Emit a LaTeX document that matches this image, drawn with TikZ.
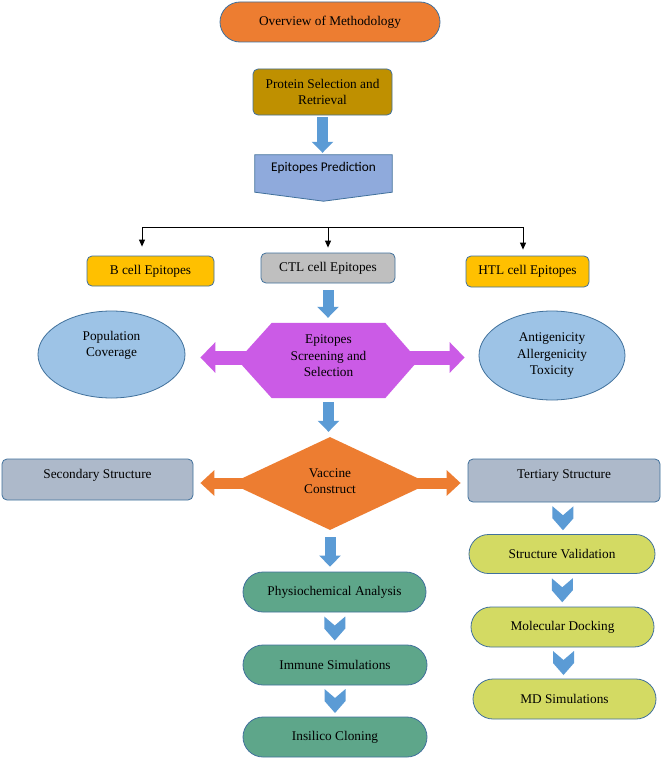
\documentclass[tikz,border=0pt]{standalone}
\usepackage{fontspec}
\setmainfont{Liberation Serif}
\newfontfamily\calibri{Carlito}
\usepackage{tikz}
\usetikzlibrary{arrows.meta,shapes.geometric,shapes.misc,calc,backgrounds}

\definecolor{edgeblue}{HTML}{41719C}
\definecolor{ovworange}{HTML}{ED7D31}
\definecolor{protgold}{HTML}{BF9000}
\definecolor{predblue}{HTML}{8FAADC}
\definecolor{cellyellow}{HTML}{FFC000}
\definecolor{cellgray}{HTML}{BFBFBF}
\definecolor{arrowblue}{HTML}{5B9BD5}
\definecolor{ovalblue}{HTML}{9DC3E6}
\definecolor{screenpink}{HTML}{CB5BE6}
\definecolor{strucgray}{HTML}{ADB9CA}
\definecolor{anagreen}{HTML}{5EA68A}
\definecolor{strlime}{HTML}{D3DA63}

\tikzset{
  txt/.style={font=\fontsize{13.3}{16.5}\selectfont, align=center, inner sep=0pt},
  box/.style={txt, draw=edgeblue, line width=0.8pt, rounded corners=5pt},
  pill/.style={txt, draw=edgeblue, line width=0.8pt, rounded rectangle},
  oval/.style={txt, draw=edgeblue, line width=0.8pt, ellipse},
  bigdown/.style={draw=arrowblue, line width=11pt, -{Triangle[length=11pt,width=21pt]}},
  treeline/.style={draw=black, line width=0.9pt},
  chevron/.pic={\fill[arrowblue] (-10.5,-12) -- (0,-3) -- (10.5,-12) -- (10.5,0) -- (0,12) -- (-10.5,0) -- cycle;}
}

\begin{document}
\begin{tikzpicture}[x=1pt,y=-1pt]
\useasboundingbox (0,0) rectangle (662,760);

% top of the flow
\node[pill, fill=ovworange, minimum width=220pt, minimum height=40pt] (ovw) at (330,22) {Overview of Methodology};
\node[box, fill=protgold, minimum width=139pt, minimum height=46pt] (prot) at (322.5,92) {Protein Selection and\\Retrieval};
\node[txt, font=\calibri\fontsize{13.3}{16}\selectfont, minimum width=137pt, minimum height=37pt, text depth=14pt] (pred) at (323.5,173.5) {Epitopes Prediction};

\node[box, fill=cellyellow, minimum width=127pt, minimum height=30pt] (bcell) at (150.5,271) {B cell Epitopes};
\node[box, fill=cellgray, minimum width=134pt, minimum height=30pt] (ctl) at (328,268) {CTL cell Epitopes};
\node[box, fill=cellyellow, minimum width=123pt, minimum height=31pt] (htl) at (527.5,271.5) {HTL cell Epitopes};

% screening row
\node[oval, fill=ovalblue, minimum width=147pt, minimum height=87pt, text depth=21pt] (popc) at (111.5,354.5) {Population\\Coverage};
\node[oval, fill=ovalblue, minimum width=146pt, minimum height=89pt] (antg) at (552,355.5) {Antigenicity\\Allergenicity\\Toxicity};
\node[txt, minimum width=113pt, minimum height=75pt, text depth=9pt] (scr) at (328.5,360.5) {Epitopes\\Screening and\\Selection};

% construct row
\node[txt, diamond, aspect=2, fill=ovworange, minimum width=198pt, minimum height=93pt, text depth=5pt] (vac) at (330,483.5) {Vaccine\\Construct};
\node[box, fill=strucgray, minimum width=191pt, minimum height=41pt, text depth=12pt] (sec) at (97.5,479.5) {Secondary Structure};
\node[box, fill=strucgray, minimum width=192pt, minimum height=43pt, text depth=12pt] (tert) at (564,480.5) {Tertiary Structure};

% analysis column
\node[pill, fill=anagreen, minimum width=183pt, minimum height=40pt] (phys) at (334.5,592) {Physiochemical Analysis};
\node[pill, fill=anagreen, minimum width=184pt, minimum height=40pt] (imm) at (335,665) {Immune Simulations};
\node[pill, fill=anagreen, minimum width=184pt, minimum height=40pt] (ins) at (335,737) {Insilico Cloning};

% structure column
\node[pill, fill=strlime, minimum width=186pt, minimum height=39pt] (sval) at (562,554) {Structure Validation};
\node[pill, fill=strlime, minimum width=183pt, minimum height=40pt] (mdock) at (562.5,627) {Molecular Docking};
\node[pill, fill=strlime, minimum width=183pt, minimum height=40pt] (mds) at (564.5,699) {MD Simulations};

\begin{scope}[on background layer]
\fill[white] (0,0) rectangle (662,760);
% prediction box, pointed at the bottom
\filldraw[fill=predblue, draw=edgeblue, line width=0.8pt] (pred.north west) -- (pred.north east) -- (pred.south east) -- ($(pred.south)+(0,9)$) -- (pred.south west) -- cycle;
% hexagon with the two-way arrow
\fill[screenpink] (scr.north west) -- (scr.north east) -- ($(scr.east)+(33,0)$) -- (scr.south east) -- (scr.south west) -- ($(scr.west)+(-34,0)$) -- cycle;
\draw[screenpink, line width=14pt, {Triangle[length=15pt,width=30pt]}-{Triangle[length=15pt,width=30pt]}, shorten <=15pt, shorten >=14pt] ([yshift=-3pt]popc.east) -- ([yshift=-2pt]antg.west);
\draw[ovworange, line width=11pt, {Triangle[length=14pt,width=25pt]}-{Triangle[length=14pt,width=25pt]}, shorten <=7pt, shorten >=7pt] ([yshift=-3.5pt]sec.east) -- ([yshift=-2.5pt]tert.west);
\end{scope}

% block arrows
\draw[bigdown, shorten <=2pt, shorten >=2pt] (prot.south) -- (prot.south |- pred.north);
\draw[bigdown, shorten <=7pt, shorten >=5pt] (ctl.south) -- (ctl.south |- scr.north);
\draw[bigdown, shorten <=4pt, shorten >=5pt] (scr.south) -- (scr.south |- vac.north);
\draw[bigdown, shorten <=7pt, shorten >=5pt] (vac.south) -- (vac.south |- phys.north);

% split into the three epitope kinds
\coordinate (fl) at (142,227);
\coordinate (fm) at (328,227);
\coordinate (fr) at (523,227);
\draw[treeline] (fl) -- (fr);
\draw[treeline, -{Triangle[length=7pt,width=6pt]}, shorten >=9pt] (fl) -- (fl |- bcell.north);
\draw[treeline, -{Triangle[length=7pt,width=6pt]}, shorten >=5pt] (fm) -- (fm |- ctl.north);
\draw[treeline, -{Triangle[length=7pt,width=6pt]}, shorten >=6pt] (fr) -- (fr |- htl.north);

% chevrons between steps
\path (phys) -- (imm) coordinate[midway] (ch1);
\path (imm) -- (ins) coordinate[midway] (ch2);
\path (tert) -- (sval) coordinate[midway] (ch3);
\path (sval) -- (mdock) coordinate[midway] (ch4);
\path (mdock) -- (mds) coordinate[midway] (ch5);
\foreach \c in {ch1,ch2,ch3,ch4,ch5}
  \pic at (\c) {chevron};

\end{tikzpicture}
\end{document}
